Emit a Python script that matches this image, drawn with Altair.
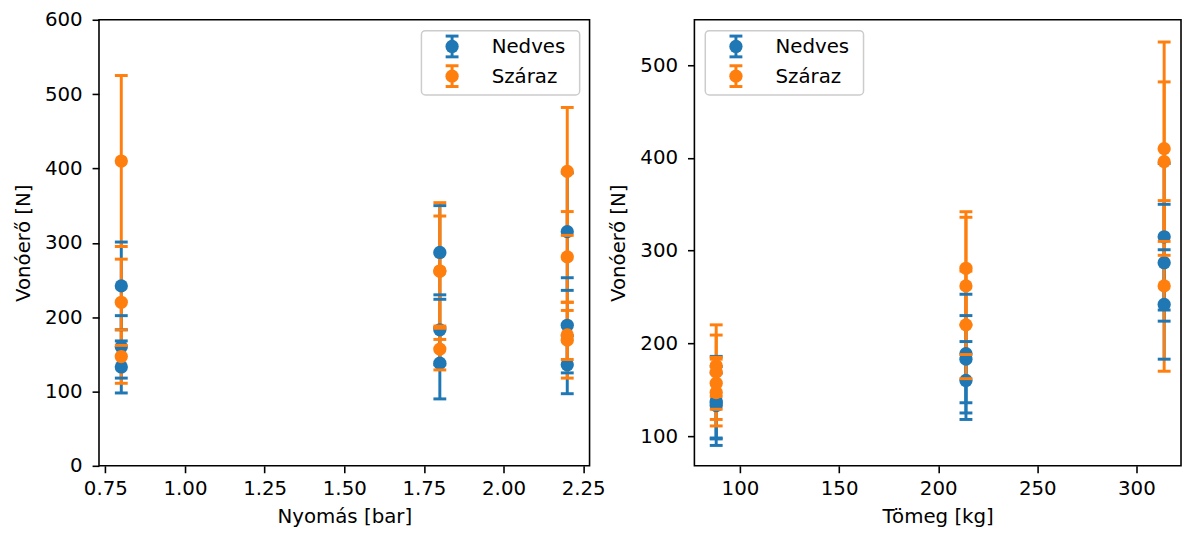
import altair as alt
import pandas as pd

series_names = ["Nedves", "Száraz"]
series_colors = ["#1f77b4", "#ff7f0e"]

nedves_pressure = [0.8, 0.8, 0.8, 1.8, 1.8, 1.8, 2.2, 2.2, 2.2]
nedves_mass = [88, 214, 314, 88, 214, 314, 88, 214, 314]
nedves_force = [133, 160, 242, 138, 183, 287, 136, 189, 315]
nedves_err = [35, 42, 59, 48, 47, 63, 39, 64, 79]

szaraz_pressure = [0.8, 0.8, 0.8, 1.8, 1.8, 1.8, 2.2, 2.2, 2.2, 2.2]
szaraz_mass = [88, 214, 314, 88, 214, 314, 88, 88, 214, 314]
szaraz_force = [147, 220, 410, 157, 262, 262, 176, 169, 281, 396]
szaraz_err = [36, 58, 115, 28, 74, 92, 33, 51, 61, 86]

pressure_ticks = [0.75, 1.0, 1.25, 1.5, 1.75, 2.0, 2.25]
mass_ticks = [100, 150, 200, 250, 300]
force_ticks_left = [0, 100, 200, 300, 400, 500, 600]
force_ticks_right = [100, 200, 300, 400, 500]

pressure_domain = [0.73, 2.27]
mass_domain = [77.0, 322.5]
force_domain_left = [0, 600]
force_domain_right = [68, 549]

FONT = "DejaVu Sans"
PLOT_H = 451

rows = []
for name, ps, ms, fs, es in [
    ("Nedves", nedves_pressure, nedves_mass, nedves_force, nedves_err),
    ("Száraz", szaraz_pressure, szaraz_mass, szaraz_force, szaraz_err),
]:
    for p, m, f, e in zip(ps, ms, fs, es):
        rows.append({"series": name, "pressure": p, "mass": m, "force": f,
                     "lo": f - e, "hi": f + e})
df = pd.DataFrame(rows)


def legend_layers(box_x, box_y):
    """Matplotlib-style legend box with errorbar handles (pixel-placed guide)."""
    box_w, box_h, row_gap = 160, 65, 30
    one = pd.DataFrame({"k": [0]})
    layers = [
        alt.Chart(one).mark_rect(fill="white", stroke="#cccccc", strokeWidth=1.5,
                                 cornerRadius=4, opacity=1).encode(
            x=alt.value(box_x), x2=alt.value(box_x + box_w),
            y=alt.value(box_y), y2=alt.value(box_y + box_h))
    ]
    for i, (name, col) in enumerate(zip(series_names, series_colors)):
        cy = box_y + 16 + i * row_gap
        sx = box_x + 31
        d = pd.DataFrame({"series": [name]})
        layers.append(alt.Chart(d).mark_rule(color=col, strokeWidth=3).encode(
            x=alt.value(sx), y=alt.value(cy - 10.5), y2=alt.value(cy + 10.5)))
        for dy in (-10.5, 10.5):
            layers.append(alt.Chart(d).mark_tick(
                orient="horizontal", size=13, thickness=3, color=col, opacity=1
            ).encode(x=alt.value(sx), y=alt.value(cy + dy)))
        layers.append(alt.Chart(d).mark_point(
            filled=True, shape="circle", size=180, color=col, opacity=1
        ).encode(x=alt.value(sx), y=alt.value(cy)))
        layers.append(alt.Chart(d).mark_text(
            align="left", baseline="middle", font=FONT, fontSize=20, color="black"
        ).encode(x=alt.value(box_x + 71), y=alt.value(cy + 1), text="series:N"))
    return layers


def panel(xfield, xtitle, xdomain, xticks, xformat, ydomain, yticks, width, box_x, box_y):
    base = alt.Chart(df)
    x = alt.X(f"{xfield}:Q", title=xtitle,
              scale=alt.Scale(domain=xdomain, nice=False, zero=False),
              axis=alt.Axis(values=xticks, format=xformat))
    yscale = alt.Scale(domain=ydomain, nice=False, zero=False)
    yaxis = alt.Axis(values=yticks, format="d")
    ytitle = "Vonóerő [N]"
    cscale = alt.Scale(domain=series_names, range=series_colors)
    rules = base.mark_rule(strokeWidth=3).encode(
        x=x,
        y=alt.Y("lo:Q", title=ytitle, scale=yscale, axis=yaxis),
        y2="hi:Q",
        color=alt.Color("series:N", scale=cscale, legend=None),
    )
    layers = [rules]
    for name in series_names:
        caps = base.transform_filter(alt.datum.series == name).transform_fold(
            ["lo", "hi"], as_=["end", "val"]
        ).mark_tick(orient="horizontal", size=13, thickness=3, opacity=1).encode(
            x=x,
            y=alt.Y("val:Q", scale=yscale, axis=yaxis, title=ytitle),
            color=alt.Color("series:N", scale=cscale, legend=None),
        )
        pts = base.transform_filter(alt.datum.series == name).mark_point(
            filled=True, shape="circle", size=180, opacity=1
        ).encode(
            x=x,
            y=alt.Y("force:Q", scale=yscale, axis=yaxis, title=ytitle),
            color=alt.Color("series:N", scale=cscale, legend=None),
        )
        layers += [caps, pts]
    layers += legend_layers(box_x, box_y)
    return alt.layer(*layers).properties(width=width, height=PLOT_H)


left = panel("pressure", "Nyomás [bar]", pressure_domain, pressure_ticks, ".2f",
             force_domain_left, force_ticks_left, 496, 496 - 10 - 160, 11)
right = panel("mass", "Tömeg [kg]", mass_domain, mass_ticks, "d",
              force_domain_right, force_ticks_right, 492, 11, 11)

chart = alt.hconcat(left, right, spacing=106, bounds="flush").resolve_scale(
    x="independent", y="independent", color="independent",
).configure_view(
    stroke="black", strokeWidth=1.6
).configure_axis(
    labelFont=FONT, labelFontSize=20, labelColor="black",
    titleFont=FONT, titleFontSize=20, titleFontWeight="normal", titleColor="black",
    tickColor="black", tickSize=7, tickWidth=1.6,
    domain=False, grid=False, labelFlush=False, labelOverlap=False,
).configure_axisY(
    labelPadding=10, titlePadding=11,
).configure_axisX(
    labelPadding=6, titlePadding=8,
).properties(
    padding={"left": 5, "top": -2, "right": 0, "bottom": 0},
    background="white",
)

chart.save("out.html", embed_options={"renderer": "svg", "actions": False})
